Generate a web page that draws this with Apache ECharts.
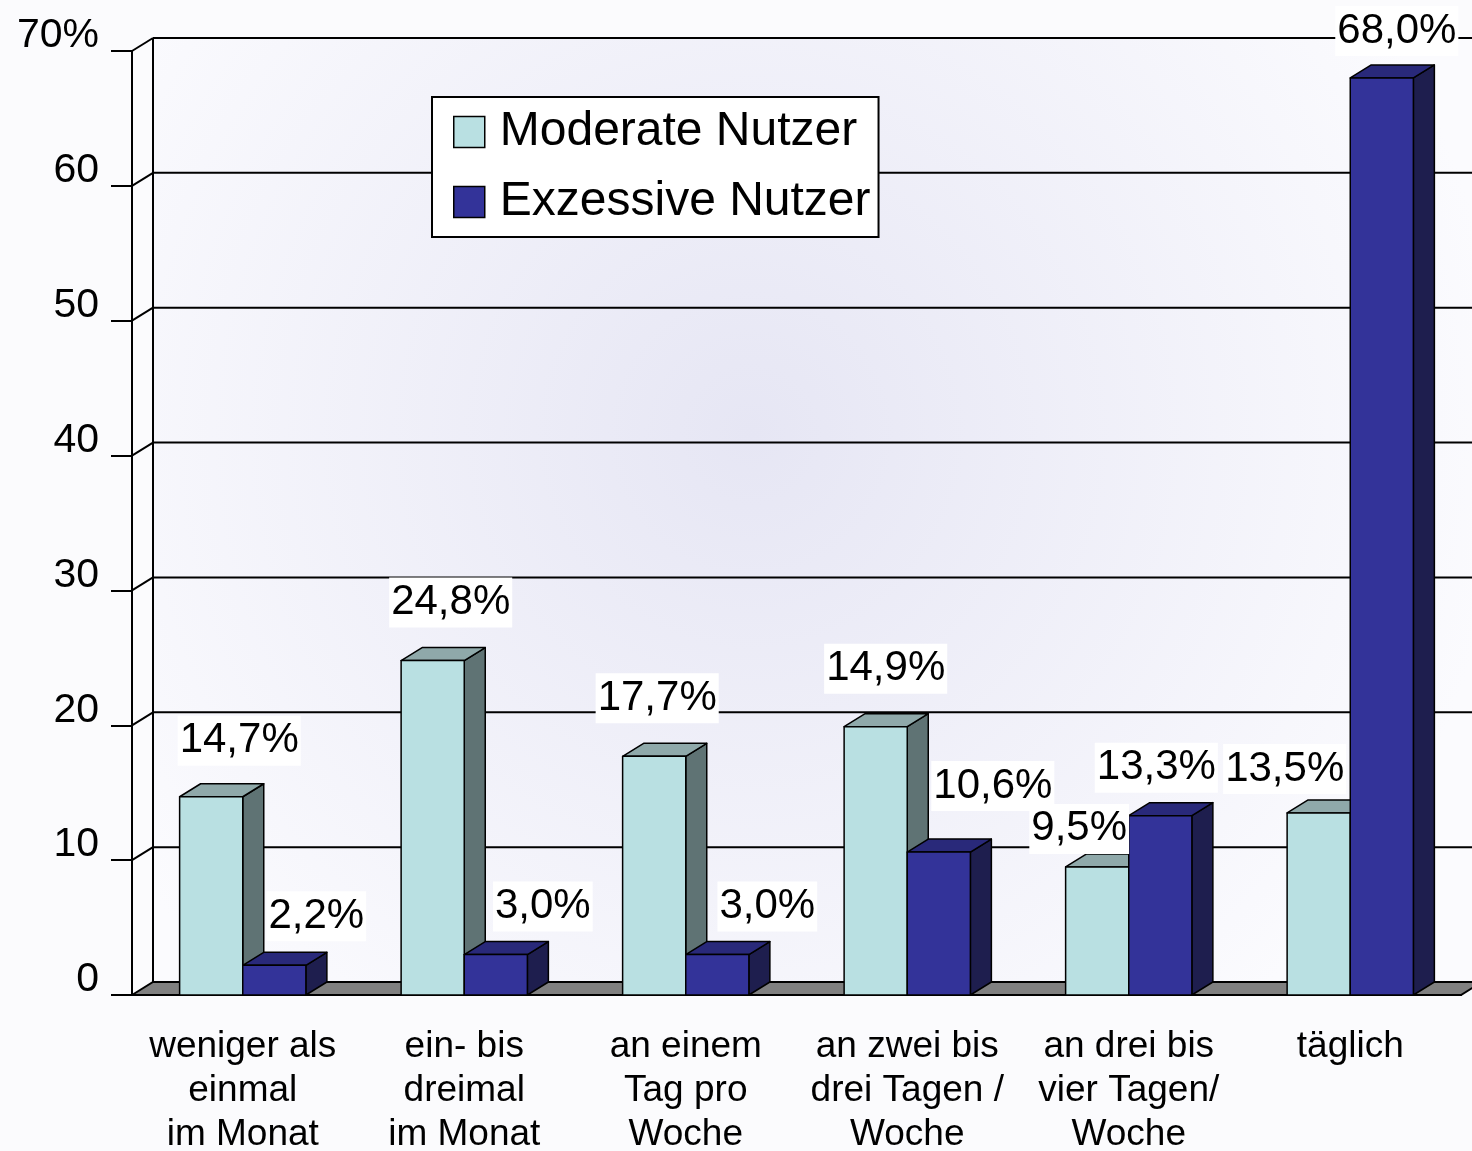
<!DOCTYPE html>
<html>
<head>
<meta charset="utf-8">
<script src="https://cdn.jsdelivr.net/npm/echarts@6/dist/echarts.min.js"></script>
<style>
html, body { margin: 0; padding: 0; background: #fbfbfd; }
#chart { width: 1472px; height: 1151px; }
</style>
</head>
<body>
<div id="chart"></div>
<script>
// data
var categories = [
	'weniger als\neinmal\nim Monat',
	'ein- bis\ndreimal\nim Monat',
	'an einem\nTag pro\nWoche',
	'an zwei bis\ndrei Tagen /\nWoche',
	'an drei bis\nvier Tagen/\nWoche',
	'täglich'
];
var seriesNames = ['Moderate Nutzer', 'Exzessive Nutzer'];
var moderate = [14.7, 24.8, 17.7, 19.9, 9.5, 13.5];
var excessive = [2.2, 3.0, 3.0, 10.6, 13.3, 68.0];
var moderateLabels = ['14,7%', '24,8%', '17,7%', '14,9%', '9,5%', '13,5%'];
var excessiveLabels = ['2,2%', '3,0%', '3,0%', '10,6%', '13,3%', '68,0%'];
var yTicks = [0, 10, 20, 30, 40, 50, 60, 70];

// look
var DX = 21, DY = -13;          // 3d depth offset
var BAR_FRAC = 0.285;           // bar width / category width
var FONT = '"Liberation Sans", Arial, sans-serif';
var faces = [
	{ front: '#b9e0e2', side: '#5f7374', top: '#8fa9aa' },
	{ front: '#333399', side: '#1e1e4e', top: '#29297a' }
];
// label position relative to the top of the bar front face
var labelShift = [
	[[28, -56], [18, -58], [3, -58], [10, -58], [-18, -38], [-34, -44]],
	[[42, -49], [47, -48], [50, -48], [54, -66], [-4, -48], [15, -47]]
];

function edge(fill) {
	return { fill: fill, stroke: '#000', lineWidth: 1.5, lineJoin: 'round' };
}

function makeBarRenderer(s, labels) {
	return function (params, api) {
		var i = api.value(0);
		var base = api.coord([i, 0]);
		var top = api.coord([i, api.value(1)]);
		var w = api.size([1, 0])[0] * BAR_FRAC;
		var x0 = base[0] - w + s * w;
		var x1 = x0 + w;
		var yb = base[1], yt = top[1];
		var c = faces[s];
		var sh = labelShift[s][i];
		return {
			type: 'group',
			children: [
				{ type: 'polygon', shape: { points: [[x1, yt], [x1 + DX, yt + DY], [x1 + DX, yb + DY], [x1, yb]] }, style: edge(c.side) },
				{ type: 'polygon', shape: { points: [[x0, yt], [x0 + DX, yt + DY], [x1 + DX, yt + DY], [x1, yt]] }, style: edge(c.top) },
				{ type: 'rect', shape: { x: x0, y: yt, width: w, height: yb - yt }, style: edge(c.front) },
				{
					type: 'text', z2: 100,
					style: {
						text: labels[i], x: (x0 + x1) / 2 + sh[0], y: yt + sh[1],
						align: 'center', verticalAlign: 'middle',
						font: '42px ' + FONT, fill: '#000',
						backgroundColor: '#fff', padding: [5, 2, 3, 2]
					}
				}
			]
		};
	};
}

function renderFrame(params, api) {
	var cs = params.coordSys;
	var gx = cs.x, gy = cs.y, gw = cs.width, gh = cs.height;
	var gb = gy + gh;
	var line = { stroke: '#000', lineWidth: 2 };
	var children = [];
	children.push({
		type: 'rect',
		shape: { x: gx + DX, y: gy + DY, width: gw, height: gh },
		style: {
			fill: {
				type: 'radial', x: 0.45, y: 0.42, r: 0.8,
				colorStops: [{ offset: 0, color: '#e6e6f4' }, { offset: 1, color: '#fbfbfe' }]
			}
		}
	});
	yTicks.forEach(function (v) {
		if (v === 0) return;
		var y = api.coord([0, v])[1];
		children.push({ type: 'line', shape: { x1: gx + DX, y1: y + DY, x2: gx + gw + DX, y2: y + DY }, style: line });
		children.push({ type: 'line', shape: { x1: gx, y1: y, x2: gx + DX, y2: y + DY }, style: line });
	});
	children.push({ type: 'line', shape: { x1: gx + DX, y1: gy + DY, x2: gx + DX, y2: gb + DY }, style: line });
	children.push({
		type: 'polygon',
		shape: { points: [[gx, gb], [gx + DX, gb + DY], [gx + gw + DX, gb + DY], [gx + gw, gb]] },
		style: { fill: '#808080', stroke: '#000', lineWidth: 2 }
	});
	return { type: 'group', children: children };
}

var chart = echarts.init(document.getElementById('chart'));

var option = {
	animation: false,
	backgroundColor: '#fbfbfd',
	grid: { left: 132, right: 11, top: 51, bottom: 156, outerBoundsMode: 'none' },
	legend: {
		left: 432, top: 97, orient: 'vertical',
		selectedMode: false,
		backgroundColor: '#fff', borderColor: '#000', borderWidth: 2, borderRadius: 0,
		padding: [10, 8, 10, 21],
		itemWidth: 31, itemHeight: 31, itemGap: 20,
		textStyle: { fontSize: 48, fontFamily: FONT, color: '#000', lineHeight: 50, padding: [0, 0, 0, 10] },
		data: seriesNames.map(function (n, k) {
			return { name: n, icon: 'rect', itemStyle: { color: faces[k].front, borderColor: '#000', borderWidth: 1.5 } };
		})
	},
	xAxis: {
		type: 'category',
		data: categories,
		axisLine: { lineStyle: { color: '#000', width: 2 } },
		axisTick: { length: 15, lineStyle: { color: '#000', width: 2 } },
		axisLabel: { interval: 0, margin: 30, fontSize: 37, lineHeight: 44, fontFamily: FONT, color: '#000' }
	},
	yAxis: {
		type: 'value', min: 0, max: 70, interval: 10,
		splitLine: { show: false },
		axisLine: { show: true, lineStyle: { color: '#000', width: 2 } },
		axisTick: { show: true, length: 21, lineStyle: { color: '#000', width: 2 } },
		axisLabel: {
			margin: 33, fontSize: 41, fontFamily: FONT, color: '#000',
			verticalAlign: 'bottom', lineHeight: 30,
			formatter: function (v) { return v === yTicks[yTicks.length - 1] ? v + '%' : String(v); }
		}
	},
	series: [
		{
			type: 'custom', name: 'frame', z: 1, silent: true,
			data: [[0, 0]],
			renderItem: renderFrame
		},
		{
			type: 'custom', name: seriesNames[0], z: 3,
			itemStyle: { color: faces[0].front },
			data: moderate.map(function (v, i) { return [i, v]; }),
			encode: { x: 0, y: 1 },
			renderItem: makeBarRenderer(0, moderateLabels)
		},
		{
			type: 'custom', name: seriesNames[1], z: 3,
			itemStyle: { color: faces[1].front },
			data: excessive.map(function (v, i) { return [i, v]; }),
			encode: { x: 0, y: 1 },
			renderItem: makeBarRenderer(1, excessiveLabels)
		}
	]
};

chart.setOption(option);
</script>
</body>
</html>
